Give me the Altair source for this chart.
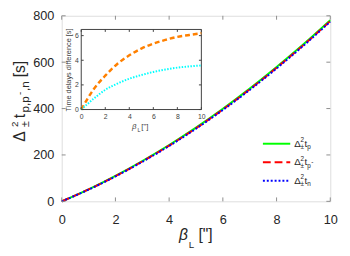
import altair as alt
import pandas as pd

# ---- data ----
beta = [0, 1, 2, 3, 4, 5, 6, 7, 8, 9, 10]
dt_p = [0, 52, 110, 174, 243, 318, 399, 486, 579, 677, 781]
dt_pbar = [0, 51.2, 108.4, 171.9, 240.5, 315.2, 396.0, 482.8, 575.6, 673.5, 777.4]
dt_n = [0, 50.4, 107.3, 170.3, 238.6, 313.1, 393.7, 480.4, 573.1, 671.0, 774.8]
diff_orange = [0, 1.6, 2.75, 3.7, 4.4, 4.95, 5.35, 5.65, 5.9, 6.05, 6.2]
diff_cyan = [0, 0.85, 1.6, 2.1, 2.5, 2.8, 3.05, 3.25, 3.4, 3.5, 3.58]
x_ticks = [0, 2, 4, 6, 8, 10]
y_ticks = [0, 200, 400, 600, 800]
inset_x_ticks = [0, 2, 4, 6, 8, 10]
inset_y_ticks = [0, 2, 4, 6]

W, H = 275, 190
IX0, IX1, IY0, IY1 = 20, 143, 96, 14   # inset box in plot pixels
FONT = "Liberation Sans"
TXT = "#262626"
BORDER = "#8c8c8c"
INK = "#404040"

df = pd.DataFrame({"beta": beta, "p": dt_p, "pbar": dt_pbar, "n": dt_n,
                   "do": diff_orange, "dc": diff_cyan})
xt = pd.DataFrame({"t": x_ticks})
yt = pd.DataFrame({"t": y_ticks})
ixt = pd.DataFrame({"t": inset_x_ticks})
iyt = pd.DataFrame({"t": inset_y_ticks})
box = pd.DataFrame({"x0": [0], "x1": [10], "y0": [0], "y1": [6.5]})

main_x = alt.Scale(domain=[0, 10], nice=False, zero=False)
main_y = alt.Scale(domain=[0, 800], nice=False)
ins_x = alt.Scale(domain=[0, 10], nice=False, zero=False, range=[IX0, IX1])
ins_y = alt.Scale(domain=[0, 6.5], nice=False, range=[IY0, IY1])

xax = alt.Axis(values=x_ticks, orient="bottom", labelFlush=False, domain=False, ticks=False,
               tickSize=0, grid=False, labelFontSize=13, labelColor=TXT, labelFont=FONT,
               labelPadding=13, title=None)
yax = alt.Axis(values=y_ticks, orient="left", domain=False, ticks=False, tickSize=0,
               grid=False, labelFontSize=13, labelColor=TXT, labelFont=FONT,
               labelPadding=8, title=None)
ixax = alt.Axis(values=inset_x_ticks, orient="bottom", offset=-(H - IY0), labelFlush=False,
                domain=False, ticks=False, tickSize=0, grid=False, labelFontSize=7,
                labelColor=INK, labelFont=FONT, labelPadding=3, title=None)
iyax = alt.Axis(values=inset_y_ticks, orient="left", offset=-IX0, domain=False, ticks=False,
                tickSize=0, grid=False, labelFontSize=7, labelColor=INK, labelFont=FONT,
                labelPadding=3, title=None)


def MX(f):
    return alt.X(f, scale=main_x, axis=xax)


def MY(f):
    return alt.Y(f, scale=main_y, axis=yax)


def IX(f):
    return alt.X(f, scale=ins_x, axis=ixax)


def IY(f):
    return alt.Y(f, scale=ins_y, axis=iyax)


def txt(s, x, y, size, dx=0, dy=0, angle=0, align="left", baseline="middle",
        color=TXT, italic=False):
    return alt.Chart(alt.Data(values=[{}])).mark_text(
        text=s, fontSize=size, dx=dx, dy=dy, angle=angle, align=align,
        baseline=baseline, color=color, font=FONT,
        fontStyle="italic" if italic else "normal"
    ).encode(x=alt.value(x), y=alt.value(y))


base = alt.Chart(df)
tl = 4
main_layers = [
    base.mark_line(color="#00ff00", strokeWidth=2, interpolate="monotone").encode(x=MX("beta:Q"), y=MY("p:Q")),
    base.mark_line(color="#ff0000", strokeWidth=2, strokeDash=[8, 4], interpolate="monotone").encode(x=MX("beta:Q"), y=MY("pbar:Q")),
    base.mark_line(color="#0000ff", strokeWidth=2, strokeDash=[2, 2], interpolate="monotone").encode(x=MX("beta:Q"), y=MY("n:Q")),
    alt.Chart(xt).mark_rule(color=BORDER).encode(x=MX("t:Q"), y=alt.value(H), y2=alt.value(H - tl)),
    alt.Chart(xt).mark_rule(color=BORDER).encode(x=MX("t:Q"), y=alt.value(0), y2=alt.value(tl)),
    alt.Chart(yt).mark_rule(color=BORDER).encode(y=MY("t:Q"), x=alt.value(0), x2=alt.value(tl)),
    alt.Chart(yt).mark_rule(color=BORDER).encode(y=MY("t:Q"), x=alt.value(W), x2=alt.value(W - tl)),
]

# legend
leg_rows = [("#00ff00", None, 131, "p", None),
            ("#ff0000", [8, 4], 150, "p", "-"),
            ("#0000ff", [2, 2], 169, "n", None)]
legend_layers = []
for color, dash, ly, sub, sup in leg_rows:
    kw = dict(color=color, strokeWidth=2)
    if dash:
        kw["strokeDash"] = dash
    legend_layers.append(alt.Chart(alt.Data(values=[{}])).mark_rule(**kw).encode(
        x=alt.value(206), x2=alt.value(234), y=alt.value(ly)))
    legend_layers += [
        txt("Δ", 238, ly, 10),
        txt("2", 244.5, ly, 6.5, dy=-3.5),
        txt("±", 244.5, ly, 6.5, dy=3.5),
        txt("t", 248.5, ly, 10),
        txt(sub, 251.5, ly, 6.5, dy=3.5),
    ]
    if sup:
        legend_layers.append(txt(sup, 255.5, ly, 6.5, dy=0))

# axis titles
YA = 130
YX = -43
ytitle = [
    txt("Δ", YX, YA, 16, dx=1, angle=270),
    txt("2", YX, YA, 10, dx=16, dy=-5, angle=270),
    txt("±", YX, YA, 11, dx=16, dy=6, angle=270),
    txt("t", YX, YA, 16, dx=25, angle=270),
    txt("p,p", YX, YA, 12, dx=31, dy=5, angle=270),
    txt("-", YX, YA, 10, dx=49, dy=0, angle=270),
    txt(",n", YX, YA, 12, dx=53, dy=5, angle=270),
    txt("[s]", YX, YA, 16, dx=67, angle=270),
]
xtitle = [
    txt("β", 120, 230, 16, baseline="alphabetic", italic=True),
    txt("L", 130, 238, 10, baseline="alphabetic"),
    txt("[\"]", 140, 230, 16, baseline="alphabetic"),
]

main = alt.layer(*main_layers, *legend_layers, *ytitle, *xtitle)

ib = alt.Chart(df)
itl = 2.5
inset_layers = [
    alt.Chart(box).mark_rect(fill="white", stroke=INK, strokeWidth=1).encode(
        x=IX("x0:Q"), x2="x1:Q", y=IY("y0:Q"), y2="y1:Q"),
    ib.mark_line(color="#ff8000", strokeWidth=2.5, strokeDash=[5, 3], interpolate="monotone").encode(
        x=IX("beta:Q"), y=IY("do:Q")),
    ib.mark_line(color="#00ffff", strokeWidth=2, strokeDash=[1.5, 1.5], interpolate="monotone").encode(
        x=IX("beta:Q"), y=IY("dc:Q")),
    alt.Chart(ixt).mark_rule(color=INK).encode(x=IX("t:Q"), y=alt.value(IY0), y2=alt.value(IY0 - itl)),
    alt.Chart(ixt).mark_rule(color=INK).encode(x=IX("t:Q"), y=alt.value(IY1), y2=alt.value(IY1 + itl)),
    alt.Chart(iyt).mark_rule(color=INK).encode(y=IY("t:Q"), x=alt.value(IX0), x2=alt.value(IX0 + itl)),
    alt.Chart(iyt).mark_rule(color=INK).encode(y=IY("t:Q"), x=alt.value(IX1), x2=alt.value(IX1 - itl)),
    txt("Time delays difference [s]", 8, 55.5, 7.5, angle=270, align="center", color=INK),
    txt("β", 72, 116, 8, baseline="alphabetic", italic=True, color=INK),
    txt("L", 77.5, 119, 5.5, baseline="alphabetic", color=INK),
    txt("[\"]", 81.5, 116, 8, baseline="alphabetic", color=INK),
]
inset = alt.layer(*inset_layers)

chart = alt.layer(main, inset).resolve_scale(x="independent", y="independent").properties(
    width=W, height=H,
    autosize=alt.AutoSizeParams(type="none"),
    padding={"left": 55, "top": 5, "right": 12, "bottom": 53},
).configure_view(stroke=BORDER, strokeWidth=1).configure(font=FONT)

chart.save("out.html", embed_options={"renderer": "svg", "actions": False})
